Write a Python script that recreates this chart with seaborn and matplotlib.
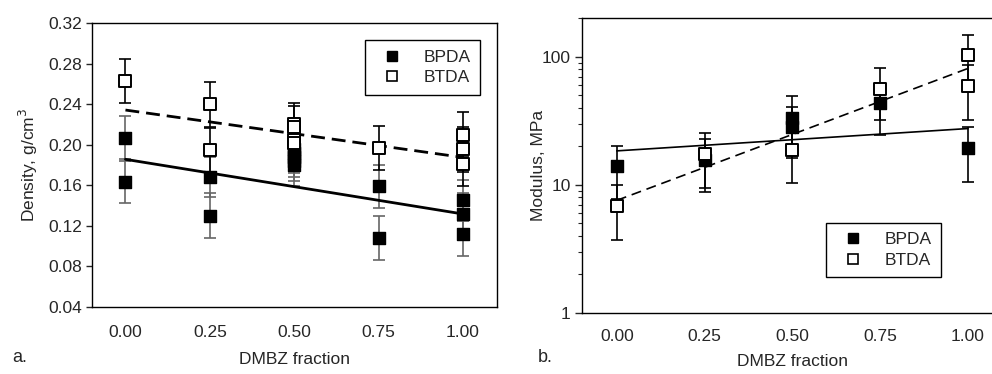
import numpy as np
import pandas as pd
import matplotlib
matplotlib.use("Agg")
import matplotlib.pyplot as plt
import seaborn as sns
from matplotlib.lines import Line2D
from matplotlib.ticker import FixedLocator, LogLocator, NullFormatter

sns.set_style("ticks")
plt.rcParams['font.family'] = ['Liberation Sans', 'DejaVu Sans']

# ---- Data: density (panel a) ----
dens_x_bpda = [0, 0, 0.25, 0.25, 0.5, 0.5, 0.5, 0.5, 0.5, 0.75, 0.75, 1, 1, 1]
dens_bpda = [0.207, 0.163, 0.168, 0.130, 0.196, 0.192, 0.188, 0.184, 0.180, 0.159, 0.108, 0.145, 0.132, 0.112]
dens_bpda_err = [0.021, 0.021, 0.020, 0.022, 0.020, 0.020, 0.020, 0.020, 0.021, 0.021, 0.022, 0.020, 0.020, 0.022]
dens_x_btda = [0, 0.25, 0.25, 0.5, 0.5, 0.5, 0.5, 0.75, 1, 1, 1]
dens_btda = [0.263, 0.240, 0.195, 0.221, 0.218, 0.205, 0.202, 0.197, 0.210, 0.1955, 0.181]
dens_btda_err = [0.022, 0.022, 0.022, 0.020, 0.020, 0.020, 0.020, 0.022, 0.022, 0.022, 0.022]
# linear fits (intercept, slope)
dens_fit_bpda = [0.1856, -0.054]
dens_fit_btda = [0.2343, -0.0468]

# ---- Data: modulus (panel b) ----
mod_x_bpda = [0, 0.25, 0.5, 0.5, 0.75, 1]
mod_bpda = [13.9, 15.7, 33.5, 28.3, 43.6, 19.5]
mod_bpda_err = [6.1, 7.0, 15.7, 12.0, 19.0, 8.9]
mod_x_btda = [0, 0.25, 0.5, 0.75, 1, 1]
mod_btda = [6.8, 17.5, 18.6, 56.5, 103, 59]
mod_btda_err = [3.1, 8.0, 8.3, 24.6, 45, 27]
# exponential fits: value at x=0 and at x=1
mod_fit_bpda = [18.4, 27.5]
mod_fit_btda = [7.55, 81.1]

x_ticks = [0.0, 0.25, 0.5, 0.75, 1.0]
x_ticklabels = ["0.00", "0.25", "0.50", "0.75", "1.00"]
dens_yticks = [0.04, 0.08, 0.12, 0.16, 0.20, 0.24, 0.28, 0.32]

series_names = ["BPDA", "BTDA"]

fig = plt.figure(figsize=(9.92, 3.74), dpi=100)
W, H = 992, 374

def px_axes(l, r, t, b):
    return fig.add_axes([l / W, 1 - b / H, (r - l) / W, (b - t) / H])

axA = px_axes(91.7, 496.7, 23.3, 306.7)
axB = px_axes(581.7, 1003, 18.3, 312.7)

msize = 64

def draw_panel(ax, xb, yb, eb, xt, yt, et, bpda_err_color):
    ax.errorbar(xb, yb, yerr=eb, fmt="none", ecolor=bpda_err_color, elinewidth=1.2,
                capsize=4.5, capthick=1.2, zorder=2)
    ax.errorbar(xt, yt, yerr=et, fmt="none", ecolor="black", elinewidth=1.2,
                capsize=4.5, capthick=1.2, zorder=2)
    df = pd.DataFrame({
        "x": list(xb) + list(xt),
        "y": list(yb) + list(yt),
        "s": ["BPDA"] * len(xb) + ["BTDA"] * len(xt),
    })
    sns.scatterplot(data=df[df.s == "BPDA"], x="x", y="y", marker="s", s=msize,
                    color="black", edgecolor="black", linewidth=1.0, ax=ax,
                    zorder=4, legend=False)
    sns.scatterplot(data=df[df.s == "BTDA"], x="x", y="y", marker="s", s=msize,
                    color="white", edgecolor="black", linewidth=1.4, ax=ax,
                    zorder=5, legend=False)

# ---- Panel a ----
draw_panel(axA, dens_x_bpda, dens_bpda, dens_bpda_err,
           dens_x_btda, dens_btda, dens_btda_err, "#666666")
xf = np.array([0.0, 1.0])
axA.plot(xf, dens_fit_bpda[0] + dens_fit_bpda[1] * xf, color="black", lw=2.0, zorder=3)
axA.plot(xf, dens_fit_btda[0] + dens_fit_btda[1] * xf, color="black", lw=2.0,
         dashes=(5, 2.5), zorder=3)
axA.set_xlim(-0.1, 1.1)
axA.set_ylim(0.04, 0.32)
axA.set_yticks(dens_yticks)
axA.set_yticklabels([f"{v:.2f}" for v in dens_yticks])
axA.set_xticks(x_ticks)
axA.set_xticklabels(x_ticklabels)
axA.set_xlabel("DMBZ fraction", fontsize=12.5, labelpad=9)
axA.set_ylabel("Density, g/cm$^3$", fontsize=12.5, labelpad=6)
for sp in axA.spines.values():
    sp.set_visible(True)
    sp.set_linewidth(1.0)
    sp.set_color("black")
axA.tick_params(axis="y", direction="out", length=4, width=1.0, labelsize=12.5, pad=3)
axA.tick_params(axis="x", length=0, labelsize=12.5, pad=13)

# ---- Panel b ----
draw_panel(axB, mod_x_bpda, mod_bpda, mod_bpda_err,
           mod_x_btda, mod_btda, mod_btda_err, "black")
xl = np.linspace(0, 1, 50)
axB.plot(xl, mod_fit_bpda[0] * (mod_fit_bpda[1] / mod_fit_bpda[0]) ** xl,
         color="black", lw=1.2, zorder=3)
axB.plot(xl, mod_fit_btda[0] * (mod_fit_btda[1] / mod_fit_btda[0]) ** xl,
         color="black", lw=1.2, dashes=(6, 3.5), zorder=3)
axB.set_yscale("log")
axB.set_xlim(-0.1, 1.1)
axB.set_ylim(1, 200)
axB.yaxis.set_major_locator(FixedLocator([1, 10, 100]))
axB.set_yticklabels(["1", "10", "100"])
axB.yaxis.set_minor_locator(LogLocator(base=10, subs=np.arange(2, 10)))
axB.yaxis.set_minor_formatter(NullFormatter())
axB.set_xticks(x_ticks)
axB.set_xticklabels(x_ticklabels)
axB.set_xlabel("DMBZ fraction", fontsize=12.5, labelpad=7)
axB.set_ylabel("Modulus, MPa", fontsize=12.5, labelpad=-3.5)
for name, sp in axB.spines.items():
    sp.set_visible(True)
    sp.set_linewidth(1.0)
    sp.set_color("black")
axB.tick_params(axis="y", which="major", direction="out", length=5, width=1.0, labelsize=12.5, pad=3)
axB.tick_params(axis="y", which="minor", direction="out", length=3, width=0.8)
axB.tick_params(axis="x", length=0, labelsize=12.5, pad=12)

# ---- Legends ----
def make_legend(ax, loc_bbox):
    handles = [
        Line2D([], [], ls="none", marker="s", markersize=7, markerfacecolor="black",
               markeredgecolor="black"),
        Line2D([], [], ls="none", marker="s", markersize=7, markerfacecolor="white",
               markeredgecolor="black", markeredgewidth=1.2),
    ]
    leg = ax.legend(handles, series_names, loc="upper left", bbox_to_anchor=loc_bbox,
                    bbox_transform=fig.transFigure, frameon=True, fancybox=False,
                    edgecolor="black", fontsize=12.5, handletextpad=0.8,
                    borderpad=0.55, labelspacing=0.3, handlelength=2.0,
                    borderaxespad=0.0)
    leg.get_frame().set_linewidth(1.0)
    leg.get_frame().set_alpha(1)

make_legend(axA, (365 / W, 1 - 40 / H))
make_legend(axB, (826 / W, 1 - 222.7 / H))

fig.text(12 / W, 1 - 358 / H, "a.", fontsize=13, va="center", ha="left")
fig.text(538 / W, 1 - 358 / H, "b.", fontsize=13, va="center", ha="left")

fig.savefig("out.png", dpi=100)
